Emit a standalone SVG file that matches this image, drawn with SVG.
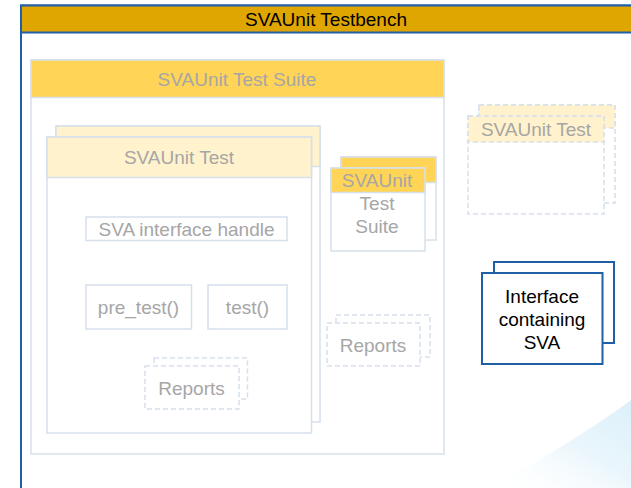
<svg xmlns="http://www.w3.org/2000/svg" width="631" height="488" viewBox="0 0 631 488">
  <defs>
    <linearGradient id="wm" x1="0" y1="1" x2="1" y2="0">
      <stop offset="0" stop-color="#ffffff" stop-opacity="0"/>
      <stop offset="0.55" stop-color="#eaf6fc"/>
      <stop offset="1" stop-color="#dcf0fa"/>
    </linearGradient>
  </defs>
  <style>
    text { font-family: "Liberation Sans", Arial, sans-serif; font-size: 19px; text-anchor: middle; dominant-baseline: central; }
    .g { fill: #a6a6a6; }
    .k { fill: #000000; }
    .box { fill: #ffffff; stroke: #d6e0eb; stroke-width: 1.5; }
    .dash { fill: #ffffff; stroke: #d6e0eb; stroke-width: 1.5; stroke-dasharray: 5 3; }
    .hdr1 { fill: #ffd457; stroke: #d6e0eb; stroke-width: 1.5; }
    .hdr2 { fill: #fff2cc; stroke: #d6e0eb; stroke-width: 1.5; }
    .hdr2d { fill: #fff2cc; stroke: #d6e0eb; stroke-width: 1.5; stroke-dasharray: 5 3; }
    .blue { fill: #ffffff; stroke: #1f5fa8; stroke-width: 2; }
  </style>
  <rect width="631" height="488" fill="#ffffff"/>

  <g id="testbench">
    <rect x="21" y="5.5" width="620" height="500" fill="#ffffff" stroke="#1f5fa8" stroke-width="2"/>
    <path d="M490,488 C550,455 605,420 631,400 L631,488 Z" fill="url(#wm)"/>
    <rect x="21" y="5.5" width="620" height="27" fill="#dfa500" stroke="#1f5fa8" stroke-width="2"/>
    <text class="k" x="326" y="19.5">SVAUnit Testbench</text>
  </g>

  <g id="test-suite">
    <rect class="box" x="31" y="60" width="413" height="394"/>
    <rect class="hdr1" x="31" y="60" width="413" height="37.5"/>
    <text class="g" x="237" y="79">SVAUnit Test Suite</text>
  </g>

  <g id="svaunit-test">
    <rect class="box" x="56" y="126" width="264" height="296"/>
    <rect class="hdr2" x="56" y="126" width="264" height="40.5"/>
    <rect class="box" x="47" y="137" width="264.5" height="296"/>
    <rect class="hdr2" x="47" y="137" width="264.5" height="40.5"/>
    <text class="g" x="179" y="157.5">SVAUnit Test</text>
  </g>

  <g id="sva-interface-handle">
    <rect class="box" x="86" y="217" width="201" height="23.5"/>
    <text class="g" x="186.5" y="229">SVA interface handle</text>
  </g>

  <g id="pre-test">
    <rect class="box" x="86" y="285" width="105.5" height="44"/>
    <text class="g" x="138.5" y="307.5">pre_test()</text>
  </g>

  <g id="test">
    <rect class="box" x="208" y="285" width="79" height="44"/>
    <text class="g" x="247.5" y="307.5">test()</text>
  </g>

  <g id="reports-inner">
    <rect class="dash" x="154" y="358" width="93.5" height="41"/>
    <rect class="dash" x="145" y="366" width="94" height="43"/>
    <text class="g" x="191.5" y="388">Reports</text>
  </g>

  <g id="nested-test-suite">
    <rect class="box" x="341" y="157" width="95" height="83"/>
    <rect class="hdr1" x="341" y="157" width="95" height="25.5"/>
    <rect class="box" x="331" y="168" width="94" height="83"/>
    <rect class="hdr1" x="331" y="168" width="94" height="24.5"/>
    <text class="g" x="377" y="180.5">SVAUnit</text>
    <text class="g" x="377" y="203.5">Test</text>
    <text class="g" x="377" y="226.5">Suite</text>
  </g>

  <g id="reports-suite">
    <rect class="dash" x="336" y="315" width="94" height="42"/>
    <rect class="dash" x="327" y="323" width="93" height="43"/>
    <text class="g" x="373" y="345">Reports</text>
  </g>

  <g id="svaunit-test-optional">
    <rect class="dash" x="479" y="105" width="136" height="98"/>
    <rect class="hdr2d" x="479" y="105" width="136" height="23"/>
    <rect class="dash" x="468" y="116" width="136" height="98"/>
    <rect class="hdr2d" x="468" y="116" width="136" height="26"/>
    <text class="g" x="536" y="129">SVAUnit Test</text>
  </g>

  <g id="interface-sva">
    <rect class="blue" x="494" y="262" width="120" height="81"/>
    <rect class="blue" x="482" y="273" width="120.5" height="91"/>
    <text class="k" x="542" y="296">Interface</text>
    <text class="k" x="542" y="319">containing</text>
    <text class="k" x="542" y="342">SVA</text>
  </g>

  <g id="connectors"></g>
</svg>
